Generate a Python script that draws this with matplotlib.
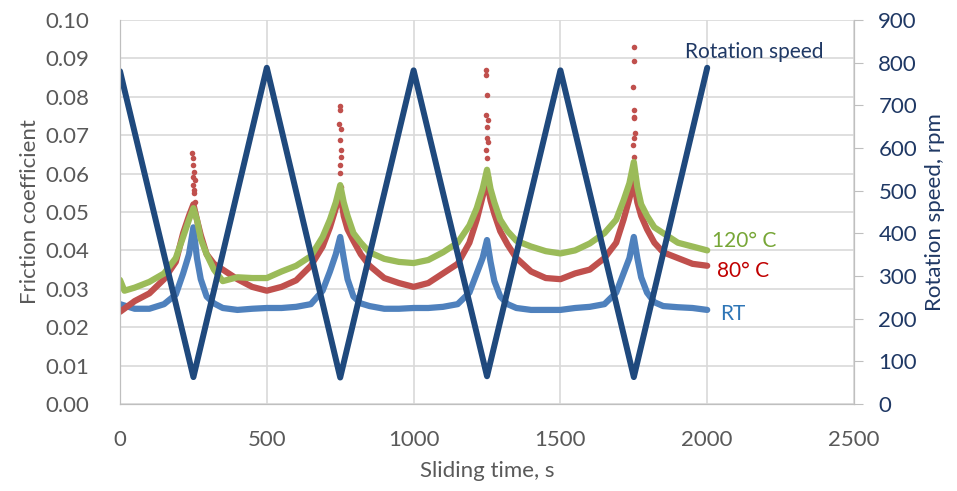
import matplotlib
matplotlib.use('Agg')
import matplotlib.pyplot as plt

plt.rcParams['font.family'] = ['Lato', 'DejaVu Sans']

# rotation speed (turning points of the sweep), rpm
t_rot = [0, 250, 500, 750, 1000, 1250, 1500, 1750, 2000]
rpm = [780, 63, 788, 62, 782, 65, 782, 63, 788]

# friction coefficient, room temperature
t_rt = [0, 50, 100, 150, 190, 215, 235, 250, 262, 275, 295, 320, 350, 400, 450,
        500, 550, 600, 650, 690, 715, 735, 750, 762, 775, 795, 820, 850, 900, 950,
        1000, 1050, 1100, 1150, 1190, 1215, 1235, 1250, 1262, 1275, 1295, 1320, 1350, 1400, 1450,
        1500, 1550, 1600, 1650, 1690, 1715, 1735, 1750, 1762, 1775, 1795, 1820, 1850, 1900, 1950,
        2000]
mu_rt = [0.026, 0.0248, 0.0248, 0.026, 0.0285, 0.034, 0.039, 0.046, 0.038, 0.0325, 0.028, 0.0262, 0.025, 0.0245, 0.0248,
         0.025, 0.025, 0.0253, 0.026, 0.0295, 0.0345, 0.039, 0.0435, 0.038, 0.0325, 0.028, 0.0262, 0.0255, 0.0248, 0.0248,
         0.025, 0.025, 0.0253, 0.026, 0.029, 0.034, 0.038, 0.0427, 0.037, 0.032, 0.028, 0.026, 0.025, 0.0245, 0.0245,
         0.0245, 0.025, 0.0253, 0.026, 0.029, 0.034, 0.038, 0.0435, 0.038, 0.033, 0.029, 0.0265, 0.0255, 0.0252, 0.025,
         0.0245]

# friction coefficient, 80 C
t_80 = t_rt
mu_80 = [0.024, 0.0268, 0.0288, 0.0325, 0.037, 0.0445, 0.049, 0.052, 0.048, 0.044, 0.039, 0.0365, 0.035, 0.0325, 0.0305,
         0.0295, 0.0305, 0.0322, 0.036, 0.041, 0.046, 0.051, 0.055, 0.049, 0.0455, 0.0425, 0.039, 0.036, 0.0328, 0.0315,
         0.0305, 0.0315, 0.034, 0.0365, 0.042, 0.048, 0.054, 0.058, 0.053, 0.0495, 0.045, 0.0415, 0.038, 0.0345, 0.0328,
         0.0325, 0.034, 0.035, 0.038, 0.042, 0.048, 0.0535, 0.058, 0.0525, 0.049, 0.0455, 0.042, 0.0395, 0.038, 0.0365,
         0.036]

# friction coefficient, 120 C
t_120 = [0, 15, 50, 100, 150, 190, 215, 235, 250, 262, 275, 295, 320, 350, 400, 450,
         500, 550, 600, 650, 690, 715, 735, 750, 762, 775, 795, 820, 850, 900, 950,
         1000, 1050, 1100, 1150, 1190, 1215, 1235, 1250, 1262, 1275, 1295, 1320, 1350, 1400, 1450,
         1500, 1550, 1600, 1650, 1690, 1715, 1735, 1750, 1762, 1775, 1795, 1820, 1850, 1900, 1950,
         2000]
mu_120 = [0.0323, 0.0295, 0.0303, 0.0318, 0.034, 0.038, 0.0435, 0.048, 0.051, 0.048, 0.043, 0.039, 0.035, 0.032, 0.033, 0.0328,
          0.0328, 0.0345, 0.036, 0.0385, 0.0435, 0.048, 0.0525, 0.057, 0.0525, 0.049, 0.0445, 0.042, 0.0395, 0.0378, 0.037,
          0.0367, 0.0375, 0.0395, 0.042, 0.0465, 0.051, 0.056, 0.061, 0.056, 0.0525, 0.048, 0.045, 0.0425, 0.041, 0.0398,
          0.0392, 0.040, 0.0418, 0.0445, 0.048, 0.053, 0.0575, 0.063, 0.0565, 0.052, 0.049, 0.046, 0.0445, 0.042, 0.041,
          0.040]

# scattered 80 C spikes at the speed minima
t_spike = [245, 248, 250, 252, 247, 254, 249, 251, 253, 256,
           748, 750, 747, 752, 749, 751, 753, 748, 750, 752,
           1247, 1248, 1250, 1246, 1252, 1249, 1251, 1253, 1248, 1250, 1252,
           1749, 1750, 1748, 1751, 1752, 1749, 1753, 1750, 1748, 1751]
mu_spike = [0.0654, 0.064, 0.0622, 0.0604, 0.059, 0.0583, 0.057, 0.0557, 0.055, 0.0526,
            0.0776, 0.0765, 0.073, 0.0715, 0.0688, 0.0661, 0.0643, 0.0622, 0.0601, 0.0565,
            0.087, 0.0857, 0.0805, 0.0753, 0.074, 0.0721, 0.0693, 0.0682, 0.0661, 0.064, 0.0591,
            0.093, 0.0893, 0.0826, 0.0766, 0.0748, 0.0744, 0.0705, 0.0692, 0.0674, 0.0644]

grey = '#595959'
navy = '#1F3864'

fig = plt.figure(figsize=(9.57, 4.91), dpi=100)
ax = fig.add_axes([0.1254, 0.1772, 0.7670, 0.7821])
ax2 = ax.twinx()

style = dict(lw=4.5, solid_capstyle='round', solid_joinstyle='round')
ax.plot(t_rt, mu_rt, color='#4F81BD', zorder=3, **style)
ax.plot(t_80, mu_80, color='#C0504D', zorder=4, **style)
ax.scatter(t_spike, mu_spike, s=16, color='#C0504D', lw=0, zorder=4)
ax.plot(t_120, mu_120, color='#9BBB59', zorder=5, **style)
ax2.plot(t_rot, rpm, color='#1F497D', lw=4.3, solid_capstyle='round', solid_joinstyle='round')

ax.set_xlim(0, 2500)
ax.set_ylim(0, 0.10)
ax2.set_ylim(0, 900)
ax.set_xticks(range(0, 2501, 500))
ax.set_yticks([i / 100 for i in range(11)])
ax.set_yticklabels(['%.2f' % (i / 100) for i in range(11)])
ax2.set_yticks(range(0, 901, 100))

ax.grid(True, color='#D9D9D9', lw=1.2)
ax.set_axisbelow(True)
for a in (ax, ax2):
    a.spines['top'].set_visible(False)
    a.spines['left'].set_color('#BFBFBF')
    a.spines['bottom'].set_color('#BFBFBF')
    a.spines['right'].set_color('#BFBFBF')
ax.tick_params(axis='y', length=0, labelsize=16, labelcolor=grey, pad=22)
ax.tick_params(axis='x', length=0, labelsize=16, labelcolor=grey, pad=19)
ax2.tick_params(axis='y', length=6.5, color='#BFBFBF', labelsize=16, labelcolor=navy, pad=11)

ax.set_xlabel('Sliding time, s', fontsize=16, color=grey, labelpad=8)
ax.set_ylabel('Friction coefficient', fontsize=16, color=grey, labelpad=4)
ax2.set_ylabel('Rotation speed, rpm', fontsize=16, color=navy, labelpad=6)

ax2.text(1925, 825, 'Rotation speed', fontsize=15, color=navy, va='center', ha='left')
ax.text(2017, 0.0425, '120° C', fontsize=15, color='#77A637', va='center', ha='left')
ax.text(2034, 0.0347, '80° C', fontsize=15, color='#C00000', va='center', ha='left')
ax.text(2043, 0.0235, 'RT', fontsize=15, color='#2E75B6', va='center', ha='left')

fig.savefig('out.png', dpi=100)
